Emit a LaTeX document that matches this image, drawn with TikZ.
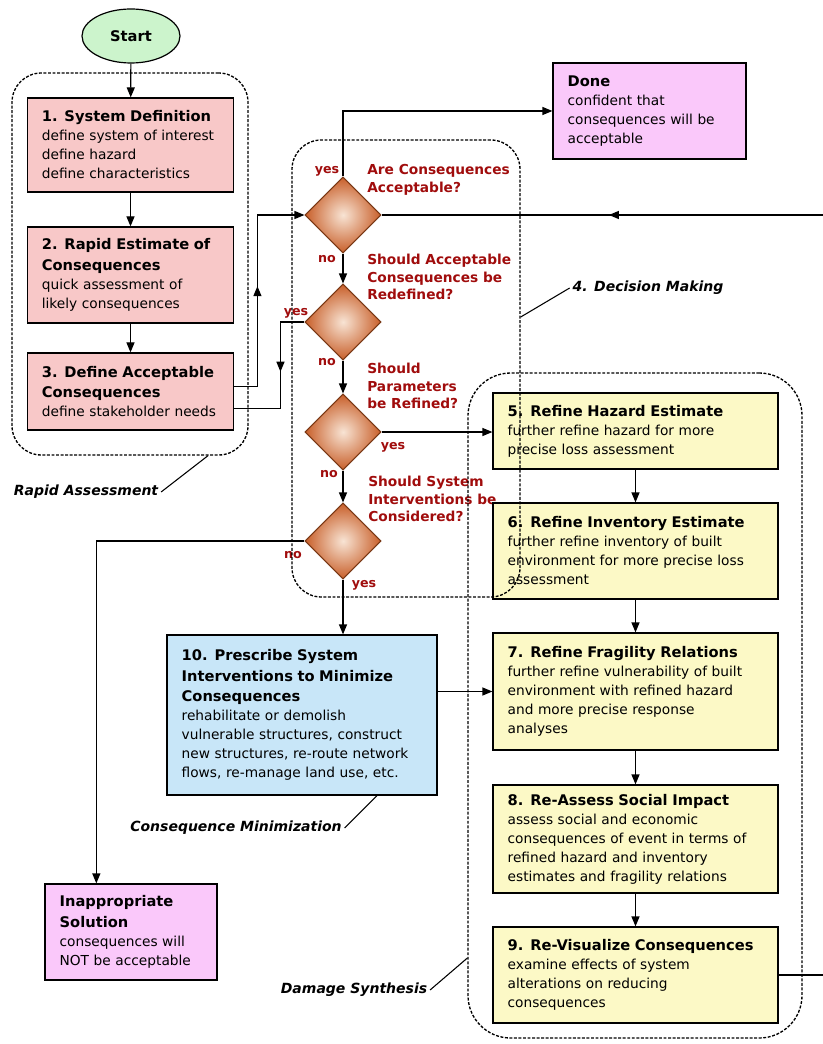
\documentclass[tikz,border=0pt]{standalone}
\usepackage{fontspec}
\setmainfont{DejaVu Sans}
\usetikzlibrary{positioning, arrows.meta, shapes.geometric, decorations.markings}

\definecolor{pinkfill}{RGB}{248,200,200}
\definecolor{lilacfill}{RGB}{250,200,250}
\definecolor{creamfill}{RGB}{252,249,198}
\definecolor{skyfill}{RGB}{200,230,248}
\definecolor{mintfill}{RGB}{204,244,204}
\definecolor{qred}{RGB}{160,12,12}
\definecolor{rustedge}{RGB}{120,55,20}
\definecolor{rustout}{RGB}{200,95,42}
\definecolor{rustin}{RGB}{248,228,212}

\newcommand{\boxtextfont}{\fontsize{10.3}{14.25}\selectfont}
\newcommand{\boxheadfont}{\fontsize{11}{14.25}\selectfont\bfseries}

\begin{document}
\begin{tikzpicture}[x=0.75pt, y=-0.75pt,
    stepbox/.style={draw, line width=0.9pt, align=left, inner xsep=11pt, inner ysep=2pt, font=\boxtextfont},
    pinkbox/.style={stepbox, fill=pinkfill, text width=133pt},
    lilacbox/.style={stepbox, fill=lilacfill},
    creambox/.style={stepbox, fill=creamfill, text width=191.75pt},
    skybox/.style={stepbox, fill=skyfill, text width=180.5pt},
    query/.style={diamond, draw=rustedge, line width=0.8pt, shading=radial, inner color=rustin, outer color=rustout, minimum width=57pt, minimum height=57pt, inner sep=0pt, aspect=1},
    qlabel/.style={anchor=west, align=left, text=qred, font=\fontsize{10.3}{13}\selectfont\bfseries, inner sep=0pt},
    ans/.style={text=qred, font=\fontsize{9.5}{11}\selectfont\bfseries, inner sep=0pt},
    flow/.style={line width=0.9pt, -{Triangle[length=7.5pt, width=6pt]}},
    link/.style={line width=0.9pt},
    midarrow/.style={postaction={decorate}, decoration={markings, mark=at position #1 with {\arrow{Triangle[length=7.5pt, width=6pt]}}}},
    grp/.style={draw, dash pattern=on 2.2pt off 1.2pt, line width=1pt, rounded corners=22pt, inner sep=0pt},
    grplbl/.style={font=\fontsize{10.5}{12}\selectfont\bfseries\itshape, inner sep=2pt},
    leader/.style={line width=0.8pt},
]
\useasboundingbox (0,0) rectangle (822,1044);

% rapid assessment
\node[ellipse, draw, line width=0.9pt, fill=mintfill, minimum width=73.5pt, minimum height=40.5pt, font=\fontsize{11}{13}\selectfont\bfseries] (start) at (131,36) {Start};
\node[pinkbox, minimum height=70.5pt] (sysdef) at (130.5,145) {{\boxheadfont 1. System Definition}\\define system of interest\\define hazard\\define characteristics};
\node[pinkbox, minimum height=72pt] (rapid) at (130.5,275) {{\boxheadfont 2. Rapid Estimate of\\[1pt]Consequences}\\quick assessment of\\likely consequences};
\node[pinkbox, minimum height=57.75pt] (accept) at (130.5,391.5) {{\boxheadfont 3. Define Acceptable\\[1pt]Consequences}\\define stakeholder needs};

% decision making
\node[query] (qok)    at (343,215) {};
\node[query] (qredef) at (343,322) {};
\node[query] (qparam) at (343,432) {};
\node[query] (qint)   at (343,541) {};

\node[qlabel] (lok)    at (367,180) {Are Consequences\\Acceptable?};
\node[qlabel] (lredef) at (367,277) {Should Acceptable\\Consequences be\\Redefined?};
\node[qlabel] (lparam) at (367,386) {Should\\Parameters\\be Refined?};
\node[qlabel] (lint)   at (368,499) {Should System\\Interventions be\\Considered?};

\node[ans] (okyes)    at (327,171) {yes};
\node[ans] (okno)     at (327,259) {no};
\node[ans] (redefyes) at (296,313) {yes};
\node[ans] (redefno)  at (327,362) {no};
\node[ans] (paramyes) at (393,447) {yes};
\node[ans] (paramno)  at (329,474) {no};
\node[ans] (intno)    at (293,555) {no};
\node[ans] (intyes)   at (364,585) {yes};

\node[lilacbox, text width=122.75pt, minimum height=72pt] (done) at (649.5,111) {{\boxheadfont Done}\\confident that\\consequences will be\\acceptable};
\node[lilacbox, text width=107pt, minimum height=72pt] (wrong) at (131,932) {{\boxheadfont Inappropriate\\[1pt]Solution}\\consequences will\\NOT be acceptable};

% damage synthesis
\node[creambox, minimum height=57pt] (hazard) at (635.5,431) {{\boxheadfont 5. Refine Hazard Estimate}\\further refine hazard for more\\precise loss assessment};
\node[creambox, minimum height=72pt] (invent) at (635.5,551) {{\boxheadfont 6. Refine Inventory Estimate}\\further refine inventory of built\\environment for more precise loss\\assessment};
\node[creambox, minimum height=87.75pt] (fragil) at (635.5,691.5) {{\boxheadfont 7. Refine Fragility Relations}\\further refine vulnerability of built\\environment with refined hazard\\and more precise response\\analyses};
\node[creambox, minimum height=81pt] (social) at (635.5,839) {{\boxheadfont 8. Re-Assess Social Impact}\\assess social and economic\\consequences of event in terms of\\refined hazard and inventory\\estimates and fragility relations};
\node[creambox, minimum height=72pt] (revis) at (635.5,975) {{\boxheadfont 9. Re-Visualize Consequences}\\examine effects of system\\alterations on reducing\\consequences};

% consequence minimization
\node[skybox, minimum height=120pt] (prescr) at (302,715) {{\boxheadfont 10. Prescribe System\\[1pt]Interventions to Minimize\\[1pt]Consequences}\\rehabilitate or demolish\\vulnerable structures, construct\\new structures, re-route network\\flows, re-manage land use, etc.};

% groups
\node[grp, minimum width=177pt, minimum height=286.5pt] (grprapid) at (130,264) {};
\node[grp, minimum width=171pt, minimum height=342.75pt] (grpdecide) at (406,368.5) {};
\node[grp, minimum width=250.5pt, minimum height=498.75pt, rounded corners=32pt] (grpdamage) at (635,705.5) {};

\node[grplbl] (lblrapid)  at (86,492)  {Rapid Assessment};
\node[grplbl] (lbldecide) at (648,288) {4. Decision Making};
\node[grplbl] (lblcons)   at (236,828) {Consequence Minimization};
\node[grplbl] (lbldamage) at (354,990) {Damage Synthesis};

\draw[leader] (lblrapid.east) -- ([xshift=58.5pt]grprapid.south);
\draw[leader] ([yshift=38.6pt]grpdecide.east) -- (lbldecide.west);
\draw[leader] (lblcons.east) -- ([xshift=56.25pt]prescr.south);
\draw[leader] (lbldamage.east) -- ([yshift=-189.4pt]grpdamage.west);

% connectors
\draw[flow] (start) -- (sysdef);
\draw[flow] (sysdef) -- (rapid);
\draw[flow] (rapid) -- (accept);
\draw[flow, midarrow=0.51] ([yshift=4pt]accept.east) -- ++(23,0) |- (qok.west);
\draw[link, midarrow=0.47] (qredef.west) -- ++(-24,0) |- ([yshift=-13pt]accept.east);
\draw[flow] (qok.north) |- (done.west);
\draw[flow] (qok) -- (qredef);
\draw[flow] (qredef) -- (qparam);
\draw[flow] (qparam) -- (qint);
\draw[flow] (qparam.east) -- (qparam.east -| hazard.west);
\draw[flow] (qint.west) -| ([xshift=-26pt]wrong.north);
\draw[flow] (qint.south) -- (prescr.north -| qint.south);
\draw[flow] (prescr.east |- fragil.west) -- (fragil.west);
\draw[flow] (hazard) -- (invent);
\draw[flow] (invent) -- (fragil);
\draw[flow] (fragil) -- (social);
\draw[flow] (social) -- (revis);
\draw[link, midarrow=0.818] (revis.east) -- ++(46,0) |- (qok.east);
\end{tikzpicture}
\end{document}
